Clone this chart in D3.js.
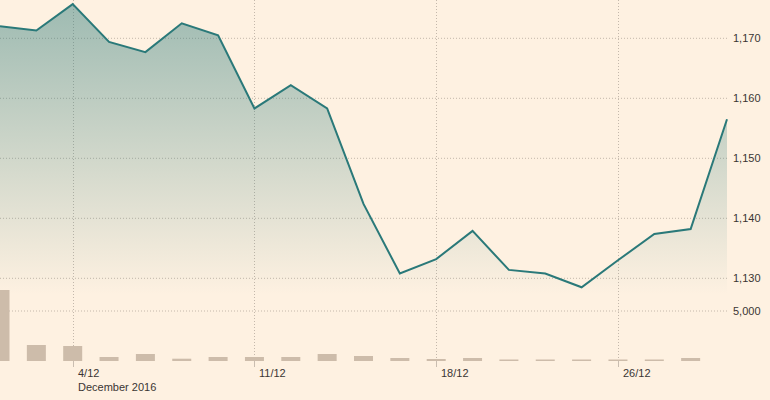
<!DOCTYPE html>
<html><head><meta charset="utf-8">
<script src="https://cdn.jsdelivr.net/npm/d3@7"></script>
<style>
html,body{margin:0;padding:0;background:#fef1e1;}
svg{display:block;font-family:"Liberation Sans",Arial,sans-serif;}
</style>
</head><body>
<svg id="c" width="770" height="400"></svg>
<script>
const dates = ["1/12","2/12","5/12","6/12","7/12","8/12","9/12","12/12","13/12","14/12","15/12","16/12","19/12","20/12","21/12","22/12","23/12","26/12","27/12","28/12","29/12"];
const prices = [1172.0,1171.3,1175.7,1169.4,1167.7,1172.5,1170.5,1158.3,1162.2,1158.3,1142.4,1130.8,1133.2,1137.9,1131.4,1130.8,1128.5,1133.0,1137.4,1138.2,1156.5];
const volumes = [7100,1600,1500,400,700,230,400,400,400,700,500,300,200,300,150,150,150,150,150,300,0];
const priceTicks = [1130,1140,1150,1160,1170];
const volumeTicks = [5000];
const xTickDates = ["5/12","12/12","19/12","26/12"];
const xTickLabels = ["4/12","11/12","18/12","26/12"];
const monthLabel = "December 2016";

const svg = d3.select("#c");
const W = 770, H = 400;
const plotRight = 727;
const x = d3.scalePoint().domain(dates).range([0, plotRight]);
const y = d3.scaleLinear().domain([1130, 1170]).range([278.3, 38.3]);
const yv = d3.scaleLinear().domain([0, 5000]).range([361, 311]);
const areaBase = 295;

const defs = svg.append("defs");
const grad = defs.append("linearGradient").attr("id","g").attr("gradientUnits","userSpaceOnUse")
  .attr("x1",0).attr("y1",0).attr("x2",0).attr("y2",areaBase);
grad.append("stop").attr("offset",0).attr("stop-color","#2a7979").attr("stop-opacity",0.46);
grad.append("stop").attr("offset",1).attr("stop-color","#2a7979").attr("stop-opacity",0.0);

const gridColor = "#c4b8ab";
// horizontal gridlines
const hg = svg.append("g");
priceTicks.forEach(t => {
  hg.append("line").attr("x1",0).attr("x2",plotRight).attr("y1",y(t)).attr("y2",y(t))
    .attr("stroke",gridColor).attr("stroke-dasharray","1,2");
});
volumeTicks.forEach(t => {
  hg.append("line").attr("x1",0).attr("x2",plotRight).attr("y1",yv(t)).attr("y2",yv(t))
    .attr("stroke",gridColor).attr("stroke-dasharray","1,2");
});
// vertical gridlines
xTickDates.forEach(d => {
  const xx = Math.round(x(d)) + 0.5;
  hg.append("line").attr("x1",xx).attr("x2",xx).attr("y1",0).attr("y2",361)
    .attr("stroke",gridColor).attr("stroke-dasharray","1,2");
  hg.append("line").attr("x1",xx).attr("x2",xx).attr("y1",361).attr("y2",367)
    .attr("stroke","#c9bdb0");
});

// area
const area = d3.area().x((d,i)=>x(dates[i])).y0(areaBase).y1(d=>y(d));
svg.append("path").datum(prices).attr("d",area).attr("fill","url(#g)");

// volume bars
svg.append("g").selectAll("rect").data(volumes).join("rect")
  .attr("x",(d,i)=>x(dates[i])-9.5).attr("width",19)
  .attr("y",d=>yv(d)).attr("height",d=>yv(0)-yv(d))
  .attr("fill","#cdbcaa");

// line
const line = d3.line().x((d,i)=>x(dates[i])).y(d=>y(d));
svg.append("path").datum(prices).attr("d",line).attr("fill","none")
  .attr("stroke","#2a7979").attr("stroke-width",2).attr("stroke-linejoin","miter");

// right axis labels
const fmt = d3.format(",");
const tc = "#3a3533";
const ax = svg.append("g").attr("font-size","11px").attr("fill",tc);
priceTicks.forEach(t => {
  ax.append("text").attr("x",733).attr("y",y(t)).attr("dy","0.35em").text(fmt(t));
});
volumeTicks.forEach(t => {
  ax.append("text").attr("x",733).attr("y",yv(t)).attr("dy","0.35em").text(fmt(t));
});
// x labels
xTickDates.forEach((d,i) => {
  ax.append("text").attr("x",Math.round(x(d))+5).attr("y",377).text(xTickLabels[i]);
});
ax.append("text").attr("x",Math.round(x(xTickDates[0]))+5).attr("y",391).text(monthLabel);
</script>
</body></html>
